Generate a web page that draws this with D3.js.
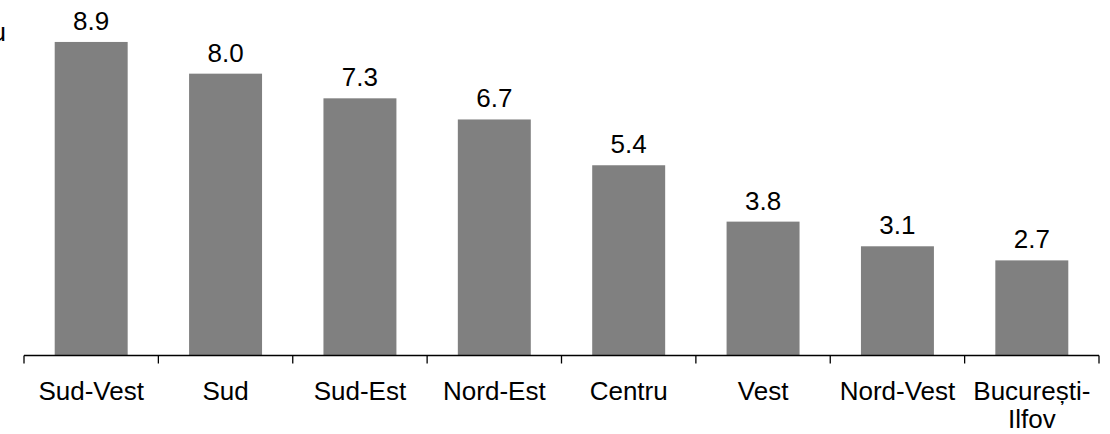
<!DOCTYPE html>
<html>
<head>
<meta charset="utf-8">
<script src="https://cdn.jsdelivr.net/npm/d3@7"></script>
<style>
  html, body { margin: 0; padding: 0; background: #ffffff; }
  svg { display: block; }
  text { font-family: "Liberation Sans", Arial, sans-serif; fill: #000; }
</style>
</head>
<body>
<svg id="chart" width="1110" height="434"></svg>
<script>
// Regional values
const regions = ["Sud-Vest", "Sud", "Sud-Est", "Nord-Est", "Centru", "Vest", "Nord-Vest", "București-Ilfov"];
const values = [8.9, 8.0, 7.3, 6.7, 5.4, 3.8, 3.1, 2.7];
// Category labels split over lines
const labelLines = [["Sud-Vest"], ["Sud"], ["Sud-Est"], ["Nord-Est"], ["Centru"], ["Vest"], ["Nord-Vest"], ["București-", "Ilfov"]];

const svg = d3.select("#chart");
const baseY = 355.5;
const fontSize = 26;

const x = d3.scaleBand()
  .domain(regions)
  .range([24, 1099])
  .paddingInner(0.457)
  .paddingOuter(0.2285);

const y = d3.scaleLinear()
  .domain([0, 10])
  .range([baseY, baseY - 352.3]);

// Bars
svg.append("g")
  .selectAll("rect")
  .data(regions)
  .join("rect")
  .attr("x", d => x(d))
  .attr("width", x.bandwidth())
  .attr("y", (d, i) => y(values[i]))
  .attr("height", (d, i) => baseY - y(values[i]))
  .attr("fill", "#808080");

// Value labels
svg.append("g")
  .selectAll("text")
  .data(regions)
  .join("text")
  .attr("x", d => x(d) + x.bandwidth() / 2)
  .attr("y", (d, i) => y(values[i]) - 12)
  .attr("text-anchor", "middle")
  .style("font-size", fontSize + "px")
  .text((d, i) => values[i].toFixed(1));

// Category axis: line with ticks at band boundaries
const axis = d3.axisBottom(x).tickSize(0).tickPadding(0).tickFormat("");
const gAxis = svg.append("g")
  .attr("transform", `translate(0,${baseY})`)
  .call(axis);
gAxis.select(".domain").remove();

const edgeOffset = x.step() * x.paddingInner() / 2;
const edges = regions.map(d => x(d) - edgeOffset).concat([x(regions[regions.length - 1]) + x.bandwidth() + edgeOffset]);

gAxis.append("line")
  .attr("x1", edges[0]).attr("x2", edges[edges.length - 1])
  .attr("y1", 0).attr("y2", 0)
  .attr("stroke", "#000").attr("stroke-width", 1.3);

gAxis.selectAll("line.edge")
  .data(edges)
  .join("line")
  .attr("class", "edge")
  .attr("x1", d => d).attr("x2", d => d)
  .attr("y1", 0).attr("y2", 8)
  .attr("stroke", "#000").attr("stroke-width", 1.3);

// Category labels
const lbl = svg.append("g")
  .selectAll("text")
  .data(regions)
  .join("text")
  .attr("text-anchor", "middle")
  .attr("transform", d => `translate(${x(d) + x.bandwidth() / 2},399.5)`)
  .style("font-size", fontSize + "px");

lbl.selectAll("tspan")
  .data((d, i) => labelLines[i])
  .join("tspan")
  .attr("x", 0)
  .attr("dy", (t, j) => j === 0 ? 0 : 28.5)
  .text(t => t);

// Partial axis title at the left edge
svg.append("text")
  .attr("x", 6)
  .attr("y", 41)
  .attr("text-anchor", "end")
  .style("font-size", fontSize + "px")
  .text("u");
</script>
</body>
</html>
